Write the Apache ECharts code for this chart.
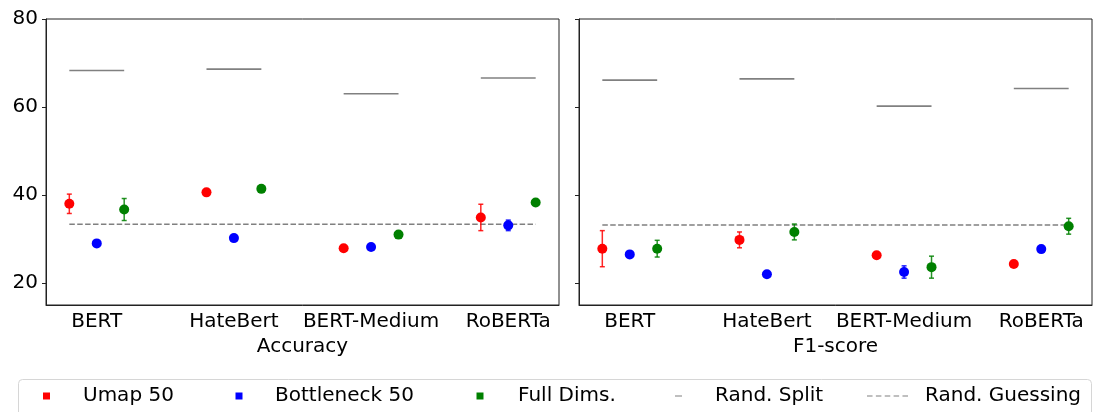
<!DOCTYPE html>
<html>
<head>
<meta charset="utf-8">
<script src="https://cdn.jsdelivr.net/npm/echarts@6/dist/echarts.min.js"></script>
<style>html,body{margin:0;padding:0;background:#fff;}#chart{width:1093px;height:412px;}</style>
</head>
<body>
<div id="chart"></div>
<script>
// ---- data ----
const categories = ['BERT', 'HateBert', 'BERT-Medium', 'RoBERTa'];
const yTicks = [20, 40, 60, 80];

const accUmap = [38.0, 40.6, 27.9, 34.9];
const accUmapErr = [2.2, 0, 0, 3.0];
const accBottleneck = [29.0, 30.2, 28.2, 33.1];
const accBottleneckErr = [0, 0, 0, 1.2];
const accFull = [36.7, 41.4, 31.0, 38.3];
const accFullErr = [2.5, 0, 0, 0];
const accRandSplit = [68.3, 68.6, 63.0, 66.6];
const accRandGuess = 33.33;

const f1Umap = [27.8, 29.8, 26.3, 24.3];
const f1UmapErr = [4.1, 1.8, 0, 0];
const f1Bottleneck = [26.5, 22.0, 22.5, 27.7];
const f1BottleneckErr = [0, 0, 1.4, 0];
const f1Full = [27.8, 31.6, 23.6, 32.9];
const f1FullErr = [1.9, 1.8, 2.5, 1.8];
const f1RandSplit = [66.1, 66.4, 60.2, 64.2];
const f1RandGuess = 33.2;

// ---- styling ----
const RED = '#ff0000', BLUE = '#0000ff', GREEN = '#008000', GRAY = '#808080';
const FONT = 'DejaVu Sans';
const OFF = 0.2;

function errRender(color) {
  return function (params, api) {
    const x = api.value(0), y = api.value(1), e = api.value(2);
    if (!e) return null;
    const t = api.coord([x, y + e]), b = api.coord([x, y - e]);
    const st = { stroke: color, lineWidth: 1.5, opacity: 0.85 };
    return { type: 'group', children: [
      { type: 'line', shape: { x1: t[0], y1: t[1], x2: b[0], y2: b[1] }, style: st },
      { type: 'line', shape: { x1: t[0] - 2.5, y1: t[1], x2: t[0] + 2.5, y2: t[1] }, style: st },
      { type: 'line', shape: { x1: b[0] - 2.5, y1: b[1], x2: b[0] + 2.5, y2: b[1] }, style: st }
    ]};
  };
}
function splitRender(params, api) {
  const x = api.value(0), y = api.value(1);
  const a = api.coord([x - OFF, y]), b = api.coord([x + OFF, y]);
  return { type: 'line', shape: { x1: a[0], y1: a[1], x2: b[0], y2: b[1] }, style: { stroke: GRAY, lineWidth: 1.6 } };
}

function panelSeries(idx, groups, split, guess) {
  const out = [];
  groups.forEach(g => {
    out.push({
      type: 'custom', name: g.name, xAxisIndex: idx, yAxisIndex: idx, z: 2,
      itemStyle: { color: g.color },
      renderItem: errRender(g.color),
      data: g.vals.map((v, i) => [i + g.off, v, g.err[i]])
    });
    out.push({
      type: 'scatter', name: g.name, xAxisIndex: idx, yAxisIndex: idx, z: 3,
      symbol: 'circle', symbolSize: 10, itemStyle: { color: g.color, opacity: 1 },
      data: g.vals.map((v, i) => [i + g.off, v])
    });
  });
  out.push({
    type: 'custom', name: 'Rand. Split', xAxisIndex: idx, yAxisIndex: idx, z: 2,
    itemStyle: { color: GRAY }, renderItem: splitRender,
    data: split.map((v, i) => [i, v])
  });
  out.push({
    type: 'line', name: 'Rand. Guessing', xAxisIndex: idx, yAxisIndex: idx, z: 1,
    symbol: 'none', itemStyle: { color: GRAY },
    lineStyle: { color: GRAY, width: 1.5, type: [5.5, 2.4] },
    data: [[-OFF, guess], [categories.length - 1 + OFF, guess]]
  });
  return out;
}

const accGroups = [
  { name: 'Umap 50', color: RED, vals: accUmap, err: accUmapErr, off: -OFF },
  { name: 'Bottleneck 50', color: BLUE, vals: accBottleneck, err: accBottleneckErr, off: 0 },
  { name: 'Full Dims.', color: GREEN, vals: accFull, err: accFullErr, off: OFF }
];
const f1Groups = [
  { name: 'Umap 50', color: RED, vals: f1Umap, err: f1UmapErr, off: -OFF },
  { name: 'Bottleneck 50', color: BLUE, vals: f1Bottleneck, err: f1BottleneckErr, off: 0 },
  { name: 'Full Dims.', color: GREEN, vals: f1Full, err: f1FullErr, off: OFF }
];

function xAxisDef(idx, name) {
  return {
    type: 'value', gridIndex: idx, min: -0.37, max: 3.37,
    name: name, nameLocation: 'middle', nameGap: 30,
    nameTextStyle: { fontSize: 20, color: '#000', fontFamily: FONT },
    axisLine: { show: true, onZero: false, lineStyle: { color: '#222', width: 1 } },
    axisTick: { show: false },
    splitLine: { show: false },
    axisLabel: {
      customValues: categories.map((c, i) => i),
      formatter: v => categories[Math.round(v)] || '',
      fontSize: 20, color: '#000', fontFamily: FONT, margin: 7
    }
  };
}
function yAxisDef(idx, showLabel) {
  return {
    type: 'value', gridIndex: idx, min: 15, max: 80,
    axisLine: { show: true, onZero: false, lineStyle: { color: '#222', width: 1 } },
    axisTick: { show: true, length: 4, customValues: yTicks, lineStyle: { color: '#222' } },
    splitLine: { show: false },
    axisLabel: {
      show: showLabel, customValues: yTicks,
      fontSize: 20, color: '#000', fontFamily: FONT, margin: 8
    }
  };
}

const dashPath = 'path://M0,0h5v1h-5zM8,0h5v1h-5zM16,0h5v1h-5zM24,0h5v1h-5zM32,0h5v1h-5z';
function legendDef(left, name, icon, color, w, h, pad) {
  return {
    left: left, top: 386, padding: 0, itemWidth: w, itemHeight: h,
    selectedMode: false,
    data: [{ name: name, icon: icon, itemStyle: { color: color, borderWidth: 0 } }],
    textStyle: { fontSize: 20, color: '#000', fontFamily: FONT, lineHeight: 20, padding: [0, 0, 0, pad] }
  };
}

const option = {
  animation: false,
  backgroundColor: '#fff',
  textStyle: { fontFamily: FONT },
  grid: [
    { left: 46, top: 19, width: 513, height: 286, show: true, borderColor: '#222', borderWidth: 1 },
    { left: 579, top: 19, width: 513, height: 286, show: true, borderColor: '#222', borderWidth: 1 }
  ],
  xAxis: [xAxisDef(0, 'Accuracy'), xAxisDef(1, 'F1-score')],
  yAxis: [yAxisDef(0, true), yAxisDef(1, false)],
  legend: [
    legendDef(43, 'Umap 50', 'rect', RED, 7, 7, 28),
    legendDef(235.5, 'Bottleneck 50', 'rect', BLUE, 7, 7, 27.5),
    legendDef(476.5, 'Full Dims.', 'rect', GREEN, 7, 7, 29.5),
    legendDef(675, 'Rand. Split', 'rect', '#aaaaaa', 7, 1.5, 28),
    legendDef(867, 'Rand. Guessing', dashPath, GRAY, 41, 1.5, 12)
  ],
  graphic: [{
    type: 'rect', left: 18, top: 379, z: -1,
    shape: { width: 1073, height: 45, r: 4 },
    style: { fill: '#fff', stroke: '#d6d6d6', lineWidth: 1 }
  }],
  series: [].concat(
    panelSeries(0, accGroups, accRandSplit, accRandGuess),
    panelSeries(1, f1Groups, f1RandSplit, f1RandGuess)
  )
};

const chart = echarts.init(document.getElementById('chart'), null, { renderer: 'canvas' });
chart.setOption(option);
</script>
</body>
</html>
